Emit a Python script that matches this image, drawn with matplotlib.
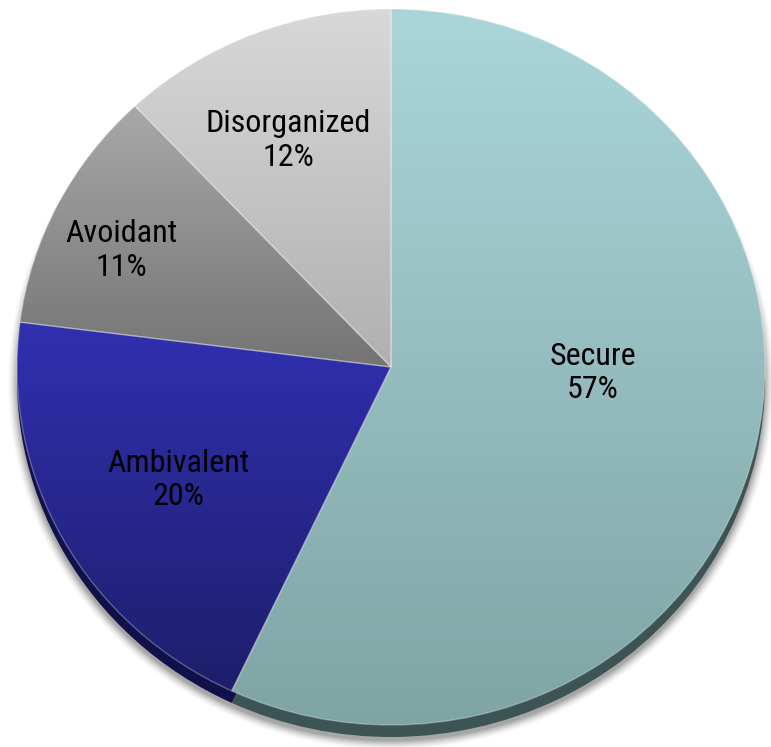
import numpy as np
import matplotlib
matplotlib.use('Agg')
import matplotlib.pyplot as plt
from matplotlib.colors import to_rgb

# attachment classification shares (%)
labels = ['Secure', 'Ambivalent', 'Avoidant', 'Disorganized']
shares = [57, 20, 11, 12]

# face gradient (top -> bottom) and side rim colours per slice
top_colors = ['#aad6da', '#3030b0', '#a8a8a8', '#d8d8d8']
bottom_colors = ['#80a4a4', '#1e1e6c', '#747474', '#b0b0b0']
rim_colors = ['#3c5454', '#10104a', '#505050', '#808080']

# label placement: radial distance and angular nudge (deg) from slice middle
label_r = [0.54, 0.65, 0.79, 0.69]
label_dang = [10.8, 0.2, 2.7, 1.9]

W, H = 771, 747
CX, CY = 391.0, 367.0      # centre of the top face, px from top-left
RX, RY = 374.0, 358.0      # half axes of the top face, px
RIM = 12.0                 # thickness of the disc edge, px

fig = plt.figure(figsize=(W / 100, H / 100), dpi=100)
ax = fig.add_axes([0, 0, 1, 1])
x0, x1 = -CX / RX, (W - CX) / RX
y0, y1 = (CY - H) / RY, CY / RY

# soft drop shadow under the disc
gx = np.linspace(x0, x1, W)
gy = np.linspace(y1, y0, H)
X, Y = np.meshgrid(gx, gy)
rho = np.hypot(X, Y + (RIM + 4) / RY)
dist = (rho - 1.0) * 366.0
shadow = np.zeros((H, W, 4))
shadow[..., :3] = 0.3
shadow[..., 3] = np.clip(1.0 - dist / 10.0, 0, 1) ** 1.5 * 0.5
ax.imshow(shadow, extent=(x0, x1, y0, y1), origin='upper', zorder=0,
          interpolation='bilinear', aspect='auto')

# side rim: same pie dropped by the edge thickness
rim, _ = ax.pie(shares, startangle=90, counterclock=False, colors=rim_colors,
                center=(0, -RIM / RY), wedgeprops=dict(linewidth=0))
for w in rim:
    w.set_zorder(1)

# top face
wedges, _ = ax.pie(shares, startangle=90, counterclock=False, colors=top_colors,
                   wedgeprops=dict(linewidth=1.0, edgecolor=(1, 1, 1, 0.3)))
for w, c_top, c_bot in zip(wedges, top_colors, bottom_colors):
    ext = w.get_path().get_extents()
    t = np.linspace(0, 1, 256)[:, None]
    grad = (1 - t) * np.array(to_rgb(c_top)) + t * np.array(to_rgb(c_bot))
    im = ax.imshow(grad[:, None, :], extent=(ext.x0, ext.x1, ext.y0, ext.y1),
                   origin='upper', zorder=2, interpolation='bilinear', aspect='auto')
    im.set_clip_path(w)
    w.set_facecolor('none')
    w.set_zorder(3)

font = ['Liberation Sans Narrow', 'Roboto Condensed', 'DejaVu Sans']
for w, name, val, r, da in zip(wedges, labels, shares, label_r, label_dang):
    ang = np.deg2rad((w.theta1 + w.theta2) / 2 + da)
    ax.text(r * np.cos(ang), r * np.sin(ang), f'{name}\n{val}%',
            ha='center', va='center', fontsize=23, family=font,
            fontstretch='condensed', linespacing=1.2, color='black', zorder=4)

ax.set_xlim(x0, x1)
ax.set_ylim(y0, y1)
ax.set_aspect('auto')
ax.axis('off')

plt.savefig('out.png', dpi=100)
